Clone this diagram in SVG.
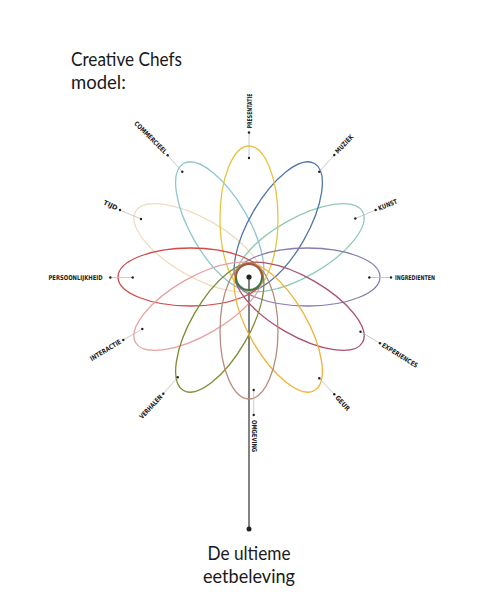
<svg xmlns="http://www.w3.org/2000/svg" width="480" height="614" viewBox="0 0 480 614">
<style>
.bg{fill:#ffffff}
.title{font-family:Lato,"Noto Sans",sans-serif;font-size:18.5px;fill:#1a1a1a}
.petal{fill:none;stroke-width:1.3}
.lbl{font-family:"DejaVu Sans Condensed","DejaVu Sans",sans-serif;font-stretch:condensed;font-weight:bold;font-size:6.6px;fill:#222}
.conn{stroke:#bdbdbd;stroke-width:0.8;fill:none}
.dot{fill:#222}
</style>
<rect class="bg" x="0" y="0" width="480" height="614"/>
<text class="title" x="71" y="66" textLength="111" lengthAdjust="spacingAndGlyphs">Creative Chefs</text>
<text class="title" x="71" y="88.5">model:</text>

<g id="connectors">
  <line x1="249" y1="277" x2="249" y2="529" stroke="#5a5a5a" stroke-width="1.5"/>
  <circle class="dot" cx="249" cy="529" r="2.5"/>
</g>

<g id="petals">
  <ellipse id="p-tijd" class="petal" stroke="#f0dcc0" cx="307.5" cy="277" rx="72.5" ry="29" transform="rotate(210 249 277)"/>
  <ellipse id="p-commercieel" class="petal" stroke="#8ec6d0" cx="307.5" cy="277" rx="72.5" ry="29" transform="rotate(240 249 277)"/>
  <ellipse id="p-kunst" class="petal" stroke="#8fcbb3" cx="307.5" cy="277" rx="72.5" ry="29" transform="rotate(330 249 277)"/>
  <ellipse id="p-muziek" class="petal" stroke="#5177ab" cx="307.5" cy="277" rx="72.5" ry="29" transform="rotate(300 249 277)"/>
  <ellipse id="p-presentatie" class="petal" stroke="#e6c443" cx="307.5" cy="277" rx="72.5" ry="29" transform="rotate(270 249 277)"/>
  <ellipse id="p-ingredienten" class="petal" stroke="#8a7cb2" cx="307.5" cy="277" rx="72.5" ry="29" transform="rotate(0 249 277)"/>
  <ellipse id="p-persoonlijkheid" class="petal" stroke="#d24a4a" cx="307.5" cy="277" rx="72.5" ry="29" transform="rotate(180 249 277)"/>
  <ellipse id="p-interactie" class="petal" stroke="#e9a0a0" cx="307.5" cy="277" rx="72.5" ry="29" transform="rotate(150 249 277)"/>
  <ellipse id="p-experiences" class="petal" stroke="#a9506f" cx="307.5" cy="277" rx="72.5" ry="29" transform="rotate(30 249 277)"/>
  <ellipse id="p-verhalen" class="petal" stroke="#7d8c33" cx="307.5" cy="277" rx="72.5" ry="29" transform="rotate(120 249 277)"/>
  <ellipse id="p-geur" class="petal" stroke="#efb43d" cx="307.5" cy="277" rx="72.5" ry="29" transform="rotate(60 249 277)"/>
  <ellipse id="p-omgeving" class="petal" stroke="#b98b7a" cx="303" cy="277" rx="68" ry="29" transform="rotate(90 249 277)"/>
</g>

<g id="center">
  <path d="M236 277 A13 13 0 0 1 262 277" fill="none" stroke="#9a5a3a" stroke-width="2"/>
  <path d="M236 277 A13 13 0 0 0 262 277" fill="none" stroke="#3d7a44" stroke-width="2"/>
  <circle class="dot" cx="249" cy="277" r="2.6"/>
</g>

<g id="n-presentatie">
  <line class="conn" x1="249" y1="158" x2="249" y2="132.5"/>
  <circle class="dot" cx="249" cy="158" r="1.2"/><circle class="dot" cx="249" cy="132.5" r="1.2"/>
  <text class="lbl" transform="translate(249.5,128.5) rotate(-90)" dominant-baseline="central" textLength="35" lengthAdjust="spacingAndGlyphs">PRESENTATIE</text>
</g>
<g id="n-muziek">
  <line class="conn" x1="319.3" y1="171.7" x2="334.3" y2="155"/>
  <circle class="dot" cx="319.3" cy="171.7" r="1.2"/><circle class="dot" cx="334.3" cy="155" r="1.2"/>
  <text class="lbl" transform="translate(336.6,152.6) rotate(-47)" dominant-baseline="central" textLength="23" lengthAdjust="spacingAndGlyphs">MUZIEK</text>
</g>
<g id="n-kunst">
  <line class="conn" x1="355.3" y1="218.5" x2="375.7" y2="210"/>
  <circle class="dot" cx="355.3" cy="218.5" r="1.2"/><circle class="dot" cx="375.7" cy="210" r="1.2"/>
  <text class="lbl" transform="translate(378.6,208.8) rotate(-22)" dominant-baseline="central" textLength="20" lengthAdjust="spacingAndGlyphs">KUNST</text>
</g>
<g id="n-ingredienten">
  <line class="conn" x1="369.3" y1="277.5" x2="391" y2="277.5"/>
  <circle class="dot" cx="369.3" cy="277.5" r="1.2"/><circle class="dot" cx="391" cy="277.5" r="1.2"/>
  <text class="lbl" transform="translate(395,277.5)" dominant-baseline="central" textLength="40" lengthAdjust="spacingAndGlyphs">INGREDIENTEN</text>
</g>
<g id="n-experiences">
  <line class="conn" x1="360.5" y1="331.7" x2="380" y2="343.3"/>
  <circle class="dot" cx="360.5" cy="331.7" r="1.2"/><circle class="dot" cx="380" cy="343.3" r="1.2"/>
  <text class="lbl" transform="translate(382.3,344.7) rotate(32)" dominant-baseline="central" textLength="41" lengthAdjust="spacingAndGlyphs">EXPERIENCES</text>
</g>
<g id="n-geur">
  <line class="conn" x1="319.3" y1="378.3" x2="334.3" y2="394.3"/>
  <circle class="dot" cx="319.3" cy="378.3" r="1.2"/><circle class="dot" cx="334.3" cy="394.3" r="1.2"/>
  <text class="lbl" transform="translate(336.4,396.6) rotate(48)" dominant-baseline="central" textLength="18" lengthAdjust="spacingAndGlyphs">GEUR</text>
</g>
<g id="n-omgeving">
  <line class="conn" x1="253.7" y1="390" x2="253.7" y2="415"/>
  <circle class="dot" cx="253.7" cy="390" r="1.2"/><circle class="dot" cx="253.7" cy="415" r="1.2"/>
  <text class="lbl" transform="translate(254,420) rotate(90)" dominant-baseline="central" textLength="32" lengthAdjust="spacingAndGlyphs">OMGEVING</text>
</g>
<g id="n-verhalen">
  <line class="conn" x1="177.7" y1="377.3" x2="163.3" y2="393.7"/>
  <circle class="dot" cx="177.7" cy="377.3" r="1.2"/><circle class="dot" cx="163.3" cy="393.7" r="1.2"/>
  <text class="lbl" transform="translate(161.3,396) rotate(-47)" text-anchor="end" dominant-baseline="central" textLength="30" lengthAdjust="spacingAndGlyphs">VERHALEN</text>
</g>
<g id="n-interactie">
  <line class="conn" x1="142.3" y1="329" x2="123.3" y2="340"/>
  <circle class="dot" cx="142.3" cy="329" r="1.2"/><circle class="dot" cx="123.3" cy="340" r="1.2"/>
  <text class="lbl" transform="translate(120.7,341.5) rotate(-31)" text-anchor="end" dominant-baseline="central" textLength="35" lengthAdjust="spacingAndGlyphs">INTERACTIE</text>
</g>
<g id="n-persoonlijkheid">
  <line class="conn" x1="132.7" y1="277.5" x2="110.3" y2="277.5"/>
  <circle class="dot" cx="132.7" cy="277.5" r="1.2"/><circle class="dot" cx="110.3" cy="277.5" r="1.2"/>
  <text class="lbl" transform="translate(102.5,277.5)" text-anchor="end" dominant-baseline="central" textLength="54" lengthAdjust="spacingAndGlyphs">PERSOONLIJKHEID</text>
</g>
<g id="n-tijd">
  <line class="conn" x1="141" y1="219" x2="120" y2="210"/>
  <circle class="dot" cx="141" cy="219" r="1.2"/><circle class="dot" cx="120" cy="210" r="1.2"/>
  <text class="lbl" transform="translate(117.2,208.7) rotate(26)" text-anchor="end" dominant-baseline="central" textLength="15" lengthAdjust="spacingAndGlyphs">TIJD</text>
</g>
<g id="n-commercieel">
  <line class="conn" x1="182.3" y1="171.7" x2="167.7" y2="155.3"/>
  <circle class="dot" cx="182.3" cy="171.7" r="1.2"/><circle class="dot" cx="167.7" cy="155.3" r="1.2"/>
  <text class="lbl" transform="translate(165.6,153) rotate(45)" text-anchor="end" dominant-baseline="central" textLength="43" lengthAdjust="spacingAndGlyphs">COMMERCIEEL</text>
</g>

<g id="n-result">
  <text class="title" x="249" y="560" text-anchor="middle" textLength="83" lengthAdjust="spacingAndGlyphs">De ultieme</text>
  <text class="title" x="249" y="582.5" text-anchor="middle" textLength="92" lengthAdjust="spacingAndGlyphs">eetbeleving</text>
</g>
</svg>
